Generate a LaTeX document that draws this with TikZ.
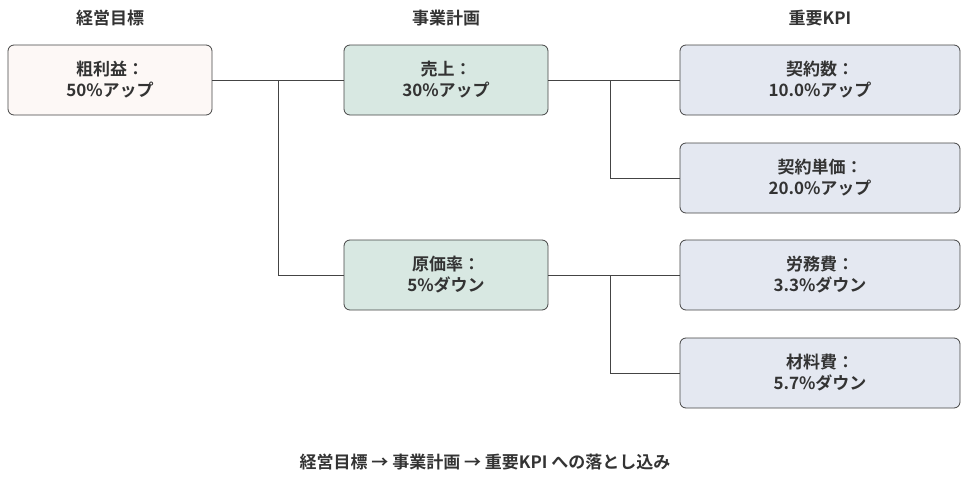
\documentclass[tikz,border=0pt]{standalone}
\usepackage{fontspec}
\setmainfont{Noto Sans CJK JP}[BoldFont={* Bold}]
\usetikzlibrary{positioning}
\definecolor{txt}{HTML}{333333}
\definecolor{goalfill}{HTML}{FDF8F6}
\definecolor{planfill}{HTML}{D8E8E2}
\definecolor{kpifill}{HTML}{E4E8F1}
\definecolor{edge}{HTML}{444444}
\tikzset{
  box/.style={draw=edge, rounded corners=6pt, line width=0.8pt, align=center,
    text=txt, font=\fontsize{17}{21}\selectfont\bfseries, inner sep=0pt},
  goal/.style={box, fill=goalfill, minimum width=204pt, minimum height=70pt},
  plan/.style={box, fill=planfill, minimum width=204pt, minimum height=70pt},
  kpi/.style={box, fill=kpifill, minimum width=280pt, minimum height=70pt},
  head/.style={text=txt, font=\fontsize{17}{21}\selectfont\bfseries},
  link/.style={draw=edge, line width=0.8pt}
}
\begin{document}
\begin{tikzpicture}[x=1pt, y=-1pt]
  \useasboundingbox (0,0) rectangle (970,479);
  \node[head] (h1) at (110,18) {経営目標};
  \node[head] (h2) at (446,18) {事業計画};
  \node[head] (h3) at (820,18) {重要KPI};

  \node[goal] (g) at (110,80) {粗利益：\\50\%アップ};
  \node[plan] (p1) at (446,80) {売上：\\30\%アップ};
  \node[plan] (p2) at (446,275) {原価率：\\5\%ダウン};
  \node[kpi] (k1) at (820,80) {契約数：\\10.0\%アップ};
  \node[kpi] (k2) at (820,178) {契約単価：\\20.0\%アップ};
  \node[kpi] (k3) at (820,275) {労務費：\\3.3\%ダウン};
  \node[kpi] (k4) at (820,373) {材料費：\\5.7\%ダウン};

  \coordinate (j1) at (278,80);
  \coordinate (j2) at (610,80);
  \coordinate (j3) at (610,275);
  \draw[link] (g) -- (p1);
  \draw[link] (j1) |- (p2);
  \draw[link] (p1) -- (k1);
  \draw[link] (j2) |- (k2);
  \draw[link] (p2) -- (k3);
  \draw[link] (j3) |- (k4);

  \node[head] (cap) at (485,462) {経営目標 → 事業計画 → 重要KPI への落とし込み};
\end{tikzpicture}
\end{document}
